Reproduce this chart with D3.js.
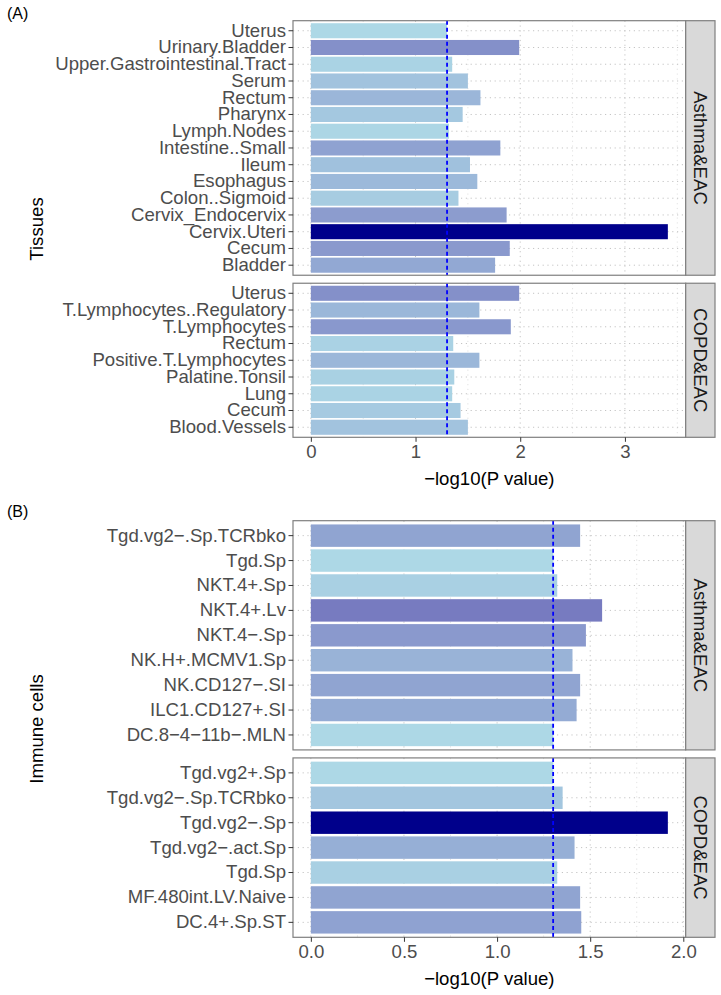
<!DOCTYPE html>
<html>
<head>
<meta charset="utf-8">
<script src="https://cdn.jsdelivr.net/npm/d3@7"></script>
<style>
  body { margin: 0; background: #fff; }
  svg { display: block; font-family: 'Liberation Sans', Arial, sans-serif; }
</style>
</head>
<body>
<div id="chart"></div>
<script>
// Dados (ordem de cima para baixo em cada painel)
const tissueAsthmaNames = ['Uterus', 'Urinary.Bladder', 'Upper.Gastrointestinal.Tract', 'Serum', 'Rectum', 'Pharynx',
  'Lymph.Nodes', 'Intestine..Small', 'Ileum', 'Esophagus', 'Colon..Sigmoid', 'Cervix_Endocervix', 'Cervix.Uteri', 'Cecum', 'Bladder']
const tissueAsthmaValues = [1.30, 1.99, 1.35, 1.50, 1.62, 1.45, 1.32, 1.81, 1.52, 1.59, 1.41, 1.87, 3.41, 1.90, 1.76]

const tissueCopdNames = ['Uterus', 'T.Lymphocytes..Regulatory', 'T.Lymphocytes', 'Rectum', 'Positive.T.Lymphocytes',
  'Palatine.Tonsil', 'Lung', 'Cecum', 'Blood.Vessels']
const tissueCopdValues = [1.99, 1.61, 1.91, 1.36, 1.61, 1.37, 1.35, 1.43, 1.50]

const cellAsthmaNames = ['Tgd.vg2−.Sp.TCRbko', 'Tgd.Sp', 'NKT.4+.Sp', 'NKT.4+.Lv', 'NKT.4−.Sp', 'NK.H+.MCMV1.Sp',
  'NK.CD127−.SI', 'ILC1.CD127+.SI', 'DC.8−4−11b−.MLN']
const cellAsthmaValues = [1.446, 1.302, 1.323, 1.564, 1.477, 1.405, 1.446, 1.427, 1.302]

const cellCopdNames = ['Tgd.vg2+.Sp', 'Tgd.vg2−.Sp.TCRbko', 'Tgd.vg2−.Sp', 'Tgd.vg2−.act.Sp', 'Tgd.Sp',
  'MF.480int.LV.Naive', 'DC.4+.Sp.ST']
const cellCopdValues = [1.302, 1.352, 1.917, 1.416, 1.323, 1.446, 1.452]

const facetLabels = ['Asthma&EAC', 'COPD&EAC']
const ticksA = [0, 1, 2, 3]
const ticksB = [0, 0.5, 1, 1.5, 2]
const THRESHOLD = -Math.log10(0.05) // linha tracejada azul

// Caracteristicas do layout
const WIDTH = 721
const HEIGHT = 995
const PANEL_LEFT = 293
const PANEL_RIGHT = 685.7
const STRIP_RIGHT = 715
const PANEL_GAP = 8
const FONT = 18.6
const BORDER = '#7f7f7f'
const DOTS = '1.2,3.6'

const svg = d3.select('#chart')
  .append('svg')
  .attr('width', WIDTH)
  .attr('height', HEIGHT)

function drawPlot (cfg) {
  const allValues = cfg.panels.flatMap(p => p.values)
  const vmax = d3.max(allValues)
  const x = d3.scaleLinear()
    .domain([-0.05 * vmax, 1.05 * vmax])
    .range([PANEL_LEFT, PANEL_RIGHT])

  const color = d3.scaleLinear()
    .domain(d3.extent(allValues))
    .range(['lightblue', 'darkblue'])
    .interpolate(d3.interpolateLab)

  // altura dos paineis proporcional ao numero de categorias (space = free_y)
  const units = cfg.panels.map(p => p.names.length + 0.2)
  const step = (cfg.bottom - cfg.top - PANEL_GAP * (cfg.panels.length - 1)) / d3.sum(units)

  let y0 = cfg.top
  cfg.panels.forEach((p, k) => {
    const h = units[k] * step
    const y = d3.scaleBand()
      .domain(p.names)
      .range([y0, y0 + h])
      .paddingInner(0.1)
      .paddingOuter(0.15)

    const g = svg.append('g')

    g.append('rect')
      .attr('x', PANEL_LEFT).attr('y', y0)
      .attr('width', PANEL_RIGHT - PANEL_LEFT).attr('height', h)
      .attr('fill', '#fff')

    // grelha menor
    g.selectAll('.minor')
      .data(cfg.minor)
      .join('line')
      .attr('x1', d => x(d)).attr('x2', d => x(d))
      .attr('y1', y0).attr('y2', y0 + h)
      .attr('stroke', '#e2e2e2')
      .attr('stroke-dasharray', DOTS)

    // grelha maior
    g.selectAll('.vmajor')
      .data(cfg.ticks)
      .join('line')
      .attr('x1', d => x(d)).attr('x2', d => x(d))
      .attr('y1', y0).attr('y2', y0 + h)
      .attr('stroke', '#c4c4c4')
      .attr('stroke-dasharray', DOTS)

    g.selectAll('.hmajor')
      .data(p.names)
      .join('line')
      .attr('x1', PANEL_LEFT).attr('x2', PANEL_RIGHT)
      .attr('y1', d => y(d) + y.bandwidth() / 2)
      .attr('y2', d => y(d) + y.bandwidth() / 2)
      .attr('stroke', '#c4c4c4')
      .attr('stroke-dasharray', DOTS)

    // barras
    g.selectAll('.bar')
      .data(p.names.map((n, i) => ({ name: n, value: p.values[i] })))
      .join('rect')
      .attr('x', x(0))
      .attr('y', d => y(d.name))
      .attr('width', d => x(d.value) - x(0))
      .attr('height', y.bandwidth())
      .attr('fill', d => color(d.value))

    // limiar p = 0.05
    g.append('line')
      .attr('x1', x(THRESHOLD)).attr('x2', x(THRESHOLD))
      .attr('y1', y0).attr('y2', y0 + h)
      .attr('stroke', '#0000ff')
      .attr('stroke-width', 1.8)
      .attr('stroke-dasharray', '4,3')

    g.append('rect')
      .attr('x', PANEL_LEFT).attr('y', y0)
      .attr('width', PANEL_RIGHT - PANEL_LEFT).attr('height', h)
      .attr('fill', 'none')
      .attr('stroke', BORDER)
      .attr('stroke-width', 1.2)

    // faixa do facet
    g.append('rect')
      .attr('x', PANEL_RIGHT).attr('y', y0)
      .attr('width', STRIP_RIGHT - PANEL_RIGHT).attr('height', h)
      .attr('fill', '#d9d9d9')
      .attr('stroke', BORDER)
      .attr('stroke-width', 1.2)

    g.append('text')
      .attr('transform', `translate(${(PANEL_RIGHT + STRIP_RIGHT) / 2}, ${y0 + h / 2}) rotate(90)`)
      .attr('text-anchor', 'middle')
      .attr('dy', '0.35em')
      .style('font-size', FONT + 'px')
      .style('fill', '#1a1a1a')
      .text(p.facet)

    // eixo y
    const yAxis = g.append('g')
      .attr('transform', `translate(${PANEL_LEFT}, 0)`)
      .call(d3.axisLeft(y).tickSize(4.5).tickPadding(2.5))
    yAxis.select('.domain').remove()
    yAxis.selectAll('line').attr('stroke', '#333')
    yAxis.selectAll('text')
      .attr('font-family', null)
      .attr('font-size', null)
      .style('font-size', FONT + 'px')
      .style('fill', '#4d4d4d')

    if (k === cfg.panels.length - 1) {
      const xAxis = g.append('g')
        .attr('transform', `translate(0, ${y0 + h})`)
        .call(d3.axisBottom(x).tickValues(cfg.ticks).tickFormat(cfg.format).tickSize(4.5).tickPadding(3))
      xAxis.select('.domain').remove()
      xAxis.selectAll('line').attr('stroke', '#333')
      xAxis.selectAll('text')
        .attr('font-family', null)
        .attr('font-size', null)
        .style('font-size', FONT + 'px')
        .style('fill', '#4d4d4d')

      svg.append('text')
        .attr('x', (PANEL_LEFT + PANEL_RIGHT) / 2)
        .attr('y', y0 + h + 48)
        .attr('text-anchor', 'middle')
        .style('font-size', FONT + 'px')
        .style('fill', '#000')
        .text('−log10(P value)')
    }

    y0 += h + PANEL_GAP
  })

  svg.append('text')
    .attr('transform', `translate(43, ${(cfg.top + cfg.bottom) / 2}) rotate(-90)`)
    .attr('text-anchor', 'middle')
    .style('font-size', FONT + 'px')
    .style('fill', '#000')
    .text(cfg.yTitle)

  svg.append('text')
    .attr('x', 7)
    .attr('y', cfg.tagY)
    .style('font-size', '16px')
    .style('fill', '#000')
    .text(cfg.tag)
}

drawPlot({
  top: 20.7,
  bottom: 437.3,
  panels: [
    { names: tissueAsthmaNames, values: tissueAsthmaValues, facet: facetLabels[0] },
    { names: tissueCopdNames, values: tissueCopdValues, facet: facetLabels[1] }
  ],
  ticks: ticksA,
  minor: [0.5, 1.5, 2.5, 3.5],
  format: d3.format('d'),
  yTitle: 'Tissues',
  tag: '(A)',
  tagY: 19
})

drawPlot({
  top: 520.7,
  bottom: 937.3,
  panels: [
    { names: cellAsthmaNames, values: cellAsthmaValues, facet: facetLabels[0] },
    { names: cellCopdNames, values: cellCopdValues, facet: facetLabels[1] }
  ],
  ticks: ticksB,
  minor: [0.25, 0.75, 1.25, 1.75],
  format: d3.format('.1f'),
  yTitle: 'Immune cells',
  tag: '(B)',
  tagY: 517
})
</script>
</body>
</html>
